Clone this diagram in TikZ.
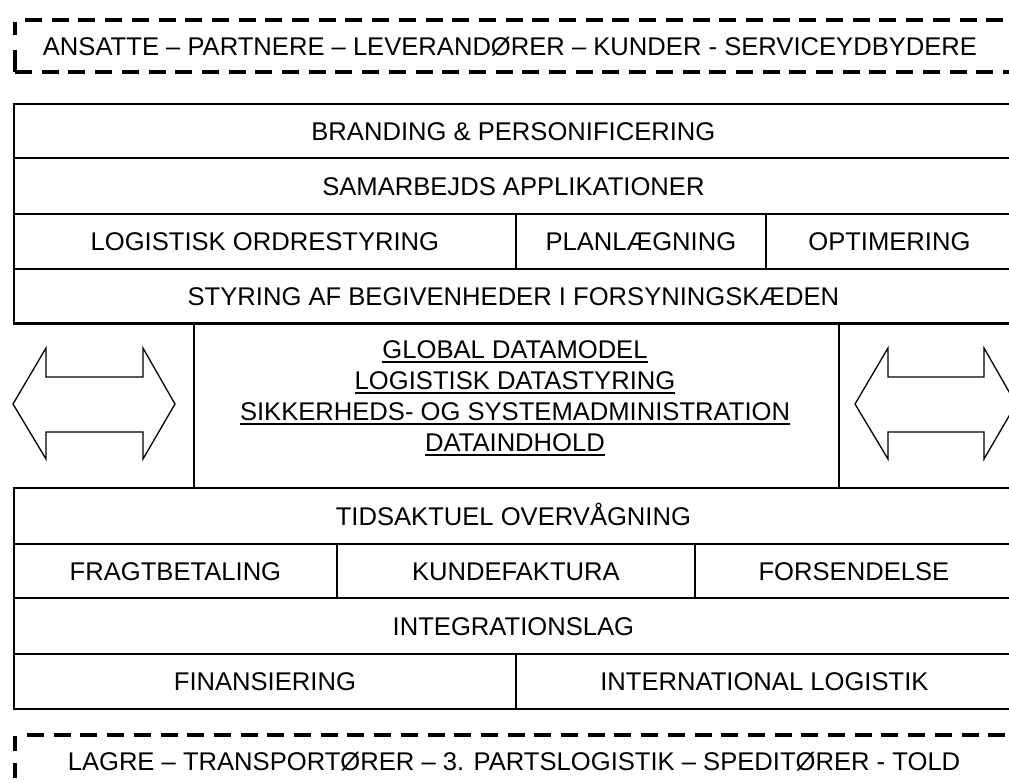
\documentclass[tikz,border=0pt]{standalone}
\usepackage{fontspec}
\setmainfont{Liberation Sans}
\newcommand\myul[1]{\setbox0\hbox{#1}\rlap{\vrule height -3.2pt depth 5pt width \wd0}\box0}
\tikzset{
  cell/.style={draw, line width=1.8pt, rectangle, inner sep=0pt, anchor=north west,
     font=\fontsize{25.6}{30}\selectfont, text height=18.3pt, text depth=0pt},
  dbox/.style={line width=3.3pt, dash pattern=on 17pt off 9.7pt},
  lbl/.style={inner sep=0pt, font=\fontsize{25.6}{30}\selectfont, text height=18.3pt, text depth=0pt},
  mline/.style={inner sep=0pt, anchor=base, font=\fontsize{25.6}{30}\selectfont},
  bigarrow/.style={draw, line width=1.3pt, fill=white}
}
\newcommand\cellat[6]{\node[cell, minimum width=#4pt-#2pt, minimum height=#5pt-#3pt] (#1) at (#2,#3) {#6};}
\begin{document}
\begin{tikzpicture}[x=1pt,y=-1pt]
\useasboundingbox (0,0) rectangle (1009,782);
% top dashed band
\coordinate (tl) at (15,20);
\coordinate (tbl) at (15,72);
\coordinate (ttr) at (1030,20);
\coordinate (tbr) at (1030,72);
\draw[dbox] ([xshift=10pt]tl) -- (ttr);
\draw[dbox] (tbl) -- (tbr);
\draw[line width=3.3pt, dash pattern=on 22pt off 15pt on 17pt off 20pt] (tbl) -- ([yshift=-2pt]tl);
\node[lbl] (top) at (510,46.5) {ANSATTE – PARTNERE – LEVERANDØRER – KUNDER - SERVICEYDBYDERE};
% upper rows
\cellat{brand}{13}{103}{1012}{157}{BRANDING \& PERSONIFICERING}
\cellat{samarb}{13}{157}{1012}{213}{SAMARBEJDS APPLIKATIONER}
\cellat{logo}{13}{213}{515}{268}{LOGISTISK ORDRESTYRING}
\cellat{plan}{515}{213}{765}{268}{PLANLÆGNING}
\cellat{opt}{765}{213}{1012}{268}{OPTIMERING}
\cellat{styr}{13}{268}{1012}{322}{STYRING AF BEGIVENHEDER I FORSYNINGSKÆDEN}
% middle
\cellat{mid}{193}{322}{838}{487}{}
\draw[line width=1.8pt] (styr.south west) -- (styr.south east);
\node[mline] (m1) at (515,358) {\myul{GLOBAL DATAMODEL}};
\node[mline] (m2) at (515,389) {\myul{LOGISTISK DATASTYRING}};
\node[mline] (m3) at (515,420) {\myul{SIKKERHEDS- OG SYSTEMADMINISTRATION}};
\node[mline] (m4) at (515,451) {\myul{DATAINDHOLD}};
% arrows
\draw[bigarrow] (13,404) -- (46,348) -- (46,377) -- (143,377) -- (143,348) -- (175,404)
   -- (143,459) -- (143,432) -- (46,432) -- (46,459) -- cycle;
\draw[bigarrow] (855,404) -- (888,348) -- (888,377) -- (984,377) -- (984,348) -- (1016,404)
   -- (984,459) -- (984,432) -- (888,432) -- (888,459) -- cycle;
% lower rows
\cellat{tids}{13}{487}{1012}{543}{TIDSAKTUEL OVERVÅGNING}
\cellat{fragt}{13}{543}{336}{597}{FRAGTBETALING}
\cellat{kunde}{336}{543}{694}{597}{KUNDEFAKTURA}
\cellat{fors}{694}{543}{1012}{597}{FORSENDELSE}
\cellat{integ}{13}{597}{1012}{653}{INTEGRATIONSLAG}
\cellat{fin}{13}{653}{515}{708}{FINANSIERING}
\cellat{intl}{515}{653}{1012}{708}{INTERNATIONAL LOGISTIK}
% bottom dashed band
\coordinate (bl) at (15,735);
\coordinate (br) at (1030,735);
\draw[dbox] ([xshift=12pt]bl) -- (br);
\draw[line width=3.3pt, dash pattern=on 15pt off 12pt] ([yshift=-1pt]bl) -- (15,800);
\node[lbl] (bot) at (514,761.5) {LAGRE – TRANSPORTØRER – 3. PARTSLOGISTIK – SPEDITØRER - TOLD};
\end{tikzpicture}
\end{document}
